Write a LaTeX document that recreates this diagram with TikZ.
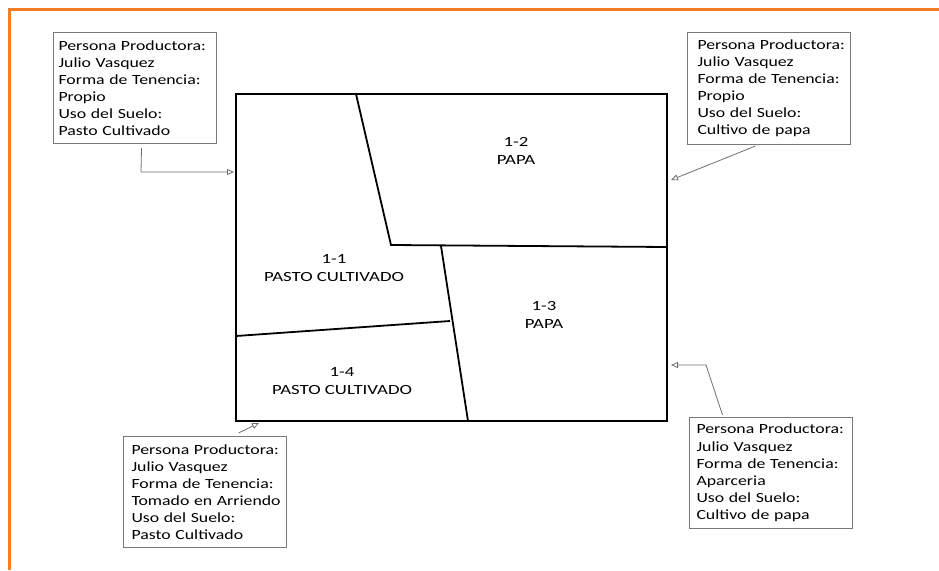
\documentclass[tikz,border=0pt]{standalone}
\usepackage{fontspec}
\setmainfont{Carlito}[FakeStretch=1.27]
\newfontfamily\parcelfont{Carlito}[FakeStretch=1.34]
\usetikzlibrary{arrows.meta}
\definecolor{frameorange}{RGB}{245,125,35}
\definecolor{conngray}{RGB}{110,110,110}
\definecolor{boxgray}{RGB}{120,120,120}
\hfuzz=60pt
\hyphenpenalty=10000
\exhyphenpenalty=10000
\begin{document}
\begin{tikzpicture}[x=1pt,y=-1pt,
  infobox/.style={draw=boxgray,line width=1pt,anchor=north west,align=left,
    minimum height=111pt,inner ysep=0pt,inner xsep=#1,text width=163pt-2*#1,
    font=\fontsize{14}{17.1}\selectfont},
  infobox/.default=7pt,
  parcel/.style={align=center,font=\parcelfont\fontsize{14}{17.1}\selectfont},
  divider/.style={line width=1.8pt,black},
  conn/.style={draw=conngray,line width=0.8pt,-{Triangle[open,length=7pt,width=6pt]}}]
\useasboundingbox (0,0) rectangle (939,570);
% orange frame
\draw[frameorange,line width=3.5pt] (9.5,570) -- (9.5,9.6) -- (939,9.6);
% main plot
\coordinate (tl) at (236,94);
\coordinate (br) at (667,421);
\draw[line width=2.2pt] (tl) rectangle (br);
\coordinate (a1) at (356,94);
\coordinate (a2) at (391,245);
\coordinate (a3) at (667,247);
\coordinate (b1) at (441,246);
\coordinate (b2) at (468,421);
\coordinate (c1) at (236,336);
\coordinate (c2) at (450,321);
\draw[divider] (a1) -- (a2) -- (a3);
\draw[divider] (b1) -- (b2);
\draw[divider] (c1) -- (c2);
% parcel labels
\node[parcel] (p12) at (516,151) {1-2\\PAPA};
\node[parcel] (p11) at (334,268) {1-1\\PASTO CULTIVADO};
\node[parcel] (p13) at (544,315) {1-3\\PAPA};
\node[parcel] (p14) at (342,381) {1-4\\PASTO CULTIVADO};
% info boxes
\node[infobox=5pt] (i1) at (53,32) {\mbox{Persona Productora:}\\\mbox{Julio Vasquez}\\\mbox{Forma de Tenencia:}\\Propio\\\mbox{Uso del Suelo:}\\\mbox{Pasto Cultivado}};
\node[infobox=10pt,minimum height=112pt] (i2) at (687,32) {\mbox{Persona Productora:}\\\mbox{Julio Vasquez}\\\mbox{Forma de Tenencia:}\\Propio\\\mbox{Uso del Suelo:}\\\mbox{Cultivo de papa}};
\node[infobox=8pt] (i3) at (123,436) {\mbox{Persona Productora:}\\\mbox{Julio Vasquez}\\\mbox{Forma de Tenencia:}\\\mbox{Tomado en Arriendo}\\\mbox{Uso del Suelo:}\\\mbox{Pasto Cultivado}};
\node[infobox=7pt] (i4) at (689,417) {\mbox{Persona Productora:}\\\mbox{Julio Vasquez}\\\mbox{Forma de Tenencia:}\\Aparceria\\\mbox{Uso del Suelo:}\\\mbox{Cultivo de papa}};
% connectors
\coordinate (k1) at (141,172);
\coordinate (e1) at (234,172);
\draw[conn] ([xshift=6.5pt,yshift=-4pt]i1.south) -- (k1) -- (e1);
\coordinate (e2) at (671,180);
\draw[conn] ([xshift=-13.5pt,yshift=-1pt]i2.south) -- (e2);
\coordinate (e3) at (259,423);
\draw[conn] ([xshift=33.5pt,yshift=3pt]i3.north) -- (e3);
\coordinate (k4) at (706,365);
\coordinate (e4) at (671,365);
\draw[conn] ([xshift=-48.5pt,yshift=2pt]i4.north) -- (k4) -- (e4);
\end{tikzpicture}
\end{document}
